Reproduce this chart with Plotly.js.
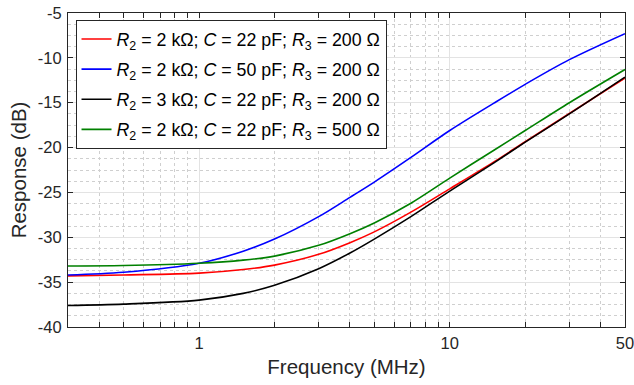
<!DOCTYPE html>
<html>
<head>
<meta charset="utf-8">
<script src="https://cdn.plot.ly/plotly-3.0.1.min.js"></script>
<style>html,body{margin:0;padding:0;background:#fff;}#chart{width:634px;height:385px;}</style>
</head>
<body>
<div id="chart"></div>
<script>
// Frequency in MHz
const freq = [0.3, 0.5, 1, 1.5, 2, 3, 4, 5, 7, 10, 15, 20, 30, 50];

// Response (dB)
const redR2k_C22_R200   = [-34.3, -34.2, -34.0, -33.6, -33.1, -31.9, -30.6, -29.4, -27.2, -24.6, -21.6, -19.35, -16.2, -12.25];
const blueR2k_C50_R200  = [-34.2, -33.9, -32.9, -31.55, -30.2, -27.7, -25.55, -23.85, -21.1, -18.1, -15.05, -12.95, -10.2, -7.3];
const blackR3k_C22_R200 = [-37.6, -37.45, -37.0, -36.25, -35.35, -33.5, -31.75, -30.2, -27.7, -24.85, -21.7, -19.4, -16.25, -12.15];
const greenR2k_C22_R500 = [-33.2, -33.15, -32.9, -32.55, -32.1, -30.9, -29.6, -28.4, -26.2, -23.4, -20.3, -18.1, -15.0, -11.3];

const seriesNames = [
  '<i>R</i><sub>2</sub> = 2 kΩ; <i>C</i> = 22 pF; <i>R</i><sub>3</sub> = 200 Ω',
  '<i>R</i><sub>2</sub> = 2 kΩ; <i>C</i> = 50 pF; <i>R</i><sub>3</sub> = 200 Ω',
  '<i>R</i><sub>2</sub> = 3 kΩ; <i>C</i> = 22 pF; <i>R</i><sub>3</sub> = 200 Ω',
  '<i>R</i><sub>2</sub> = 2 kΩ; <i>C</i> = 22 pF; <i>R</i><sub>3</sub> = 500 Ω'
];
const seriesColors = ['#ff0000', '#0000ff', '#000000', '#008000'];
const seriesValues = [redR2k_C22_R200, blueR2k_C50_R200, blackR3k_C22_R200, greenR2k_C22_R500];

const xTickVals = [1, 10, 50];
const xTickText = ['1', '10', '50'];
const xMinorVals = [0.3, 0.4, 0.5, 0.6, 0.7, 0.8, 0.9, 2, 3, 4, 5, 6, 7, 8, 9, 20, 30, 40];
const yTickVals = [-40, -35, -30, -25, -20, -15, -10, -5];
const yTickText = ['-40', '-35', '-30', '-25', '-20', '-15', '-10', '-5'];

const traces = seriesValues.map((vals, i) => ({
  x: freq, y: vals, type: 'scatter', mode: 'lines',
  name: seriesNames[i], legendgroup: 'g' + i,
  line: {color: seriesColors[i], width: 1.6, shape: 'spline', smoothing: 0.9}
}));

const axisCol = '#262626';
const fontFam = '"Liberation Sans", Arial, Helvetica, sans-serif';

const layout = {
  width: 634, height: 385,
  margin: {l: 68, r: 9, t: 13, b: 58},
  paper_bgcolor: '#ffffff', plot_bgcolor: '#ffffff',
  font: {family: fontFam, color: axisCol, size: 16},
  showlegend: true,
  legend: {
    x: 0.0135, y: 0.978, xanchor: 'left', yanchor: 'top',
    bgcolor: '#ffffff', bordercolor: axisCol, borderwidth: 1,
    font: {family: fontFam, size: 17.8, color: '#000000'},
    tracegroupgap: 4, itemwidth: 30
  },
  xaxis: {
    type: 'log', range: [Math.log10(0.3), Math.log10(50.02)],
    tickmode: 'array', tickvals: xTickVals, ticktext: xTickText,
    ticks: 'inside', ticklen: 5, tickcolor: axisCol, tickwidth: 1,
    ticklabelstandoff: 1, ticklabeloverflow: 'allow',
    showline: true, linecolor: axisCol, linewidth: 1, mirror: 'ticks',
    showgrid: true, gridcolor: '#e3e3e3', gridwidth: 1,
    zeroline: false,
    tickfont: {size: 16.5, color: axisCol},
    title: {text: 'Frequency (MHz)', font: {size: 20.5, color: axisCol}, standoff: 8},
    minor: {
      tickmode: 'array', tickvals: xMinorVals,
      ticks: 'inside', ticklen: 5, tickcolor: axisCol,
      showgrid: true, gridcolor: '#cfcfcf', griddash: 'dot', gridwidth: 1
    }
  },
  yaxis: {
    range: [-40, -5],
    tickmode: 'array', tickvals: yTickVals, ticktext: yTickText,
    ticks: 'inside', ticklen: 5, tickcolor: axisCol, tickwidth: 1,
    ticklabelstandoff: 2,
    showline: true, linecolor: axisCol, linewidth: 1, mirror: 'ticks',
    showgrid: true, gridcolor: '#e3e3e3', gridwidth: 1,
    zeroline: false,
    tickfont: {size: 16.5, color: axisCol},
    title: {text: 'Response (dB)', font: {size: 20.5, color: axisCol}, standoff: 5},
    minor: {
      dtick: 1.25, tick0: 0, ticks: '',
      showgrid: true, gridcolor: '#cfcfcf', griddash: 'dot', gridwidth: 1
    }
  }
};

Plotly.newPlot('chart', traces, layout, {staticPlot: true, displayModeBar: false});
</script>
</body>
</html>
